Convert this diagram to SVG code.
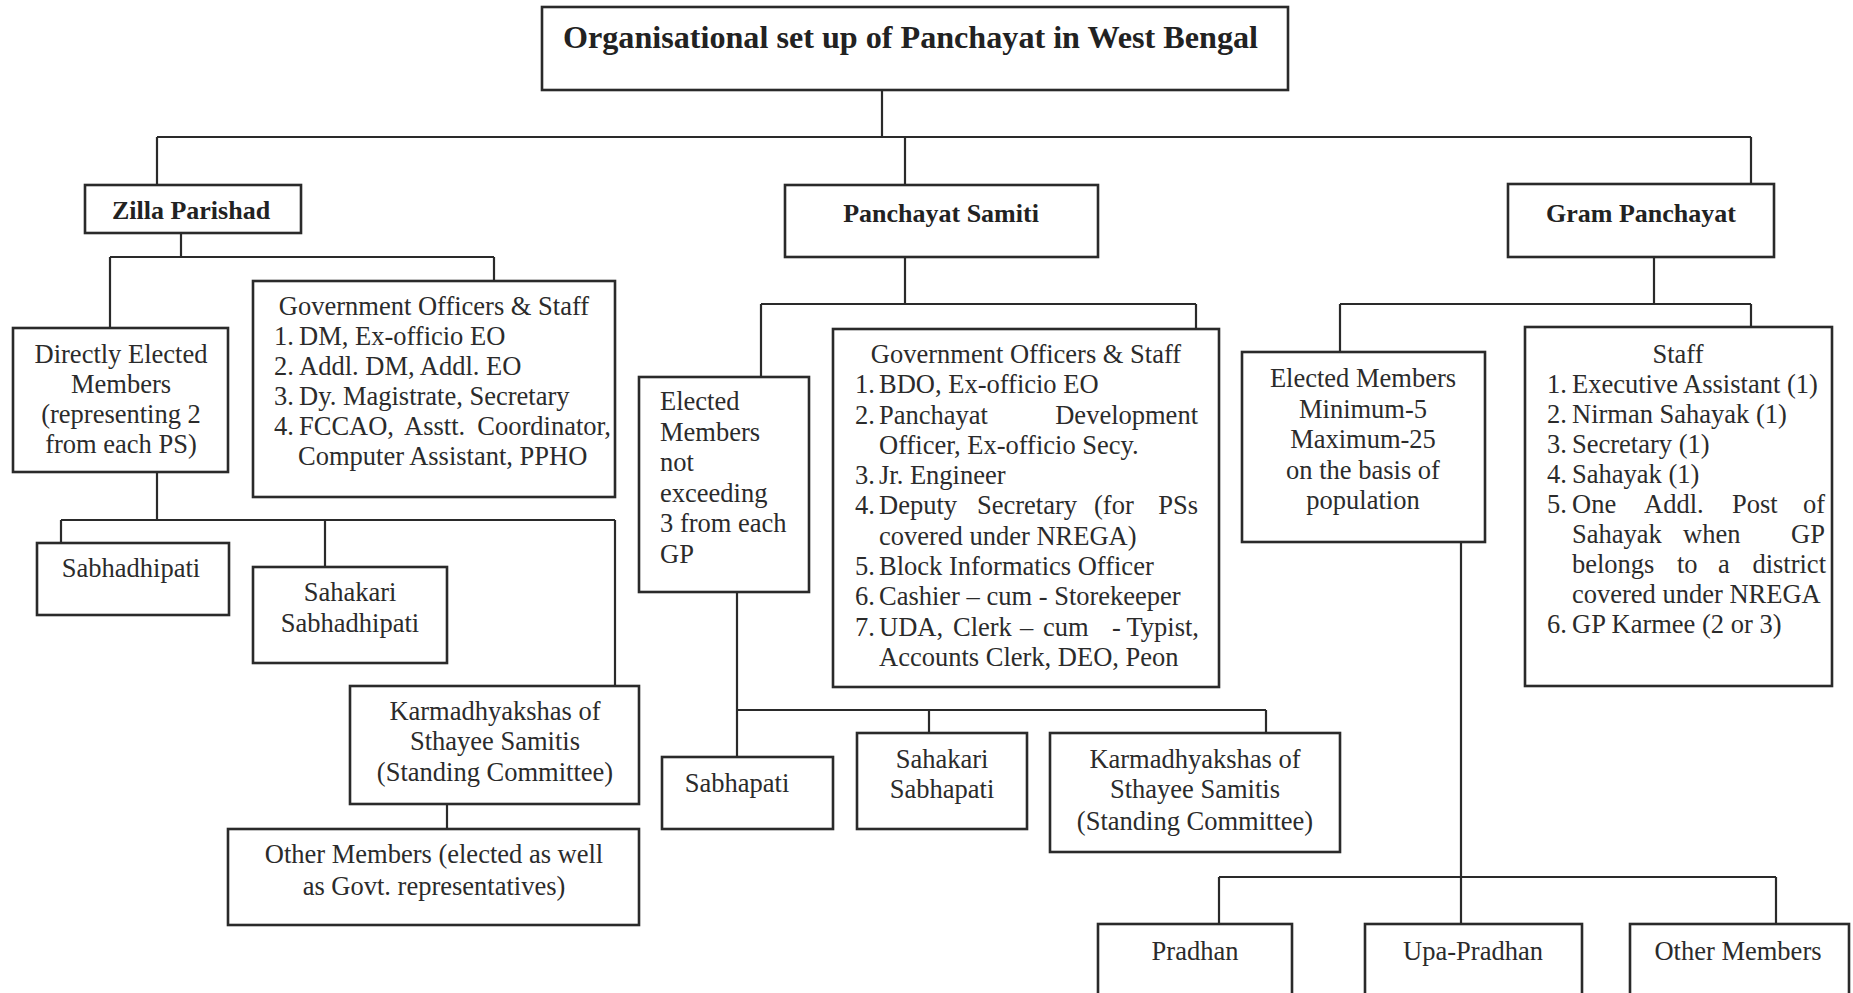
<svg xmlns="http://www.w3.org/2000/svg" width="1853" height="993" viewBox="0 0 1853 993">
<style>
.box{fill:#fff;stroke:#2a2a2a;stroke-width:2.6}
.ln{stroke:#2a2a2a;stroke-width:2.2;fill:none}
.t{font-family:'Liberation Serif','Times New Roman',serif;font-size:26.5px;fill:#2b2b2b}
.c{text-anchor:middle}
.e{text-anchor:end}
.b{font-weight:bold;font-size:26px;fill:#222}
.title{font-weight:bold;font-size:31px;fill:#222}
</style>
<rect width="1853" height="993" fill="#fff"/>
<g id="connectors">
<path class="ln" d="M882,90V137M157,137H1751M157,137V185M905,137V185M1751,137V185"/>
<path class="ln" d="M181,233V257M110,257H494M110,257V328M494,257V281"/>
<path class="ln" d="M157,472V520M61,520H615M61,520V543M325,520V567M615,520V686M447,804V829"/>
<path class="ln" d="M905,257V304M761,304H1196M761,304V377M1196,304V329"/>
<path class="ln" d="M737,592V757M737,710H1266M929,710V733M1266,710V733"/>
<path class="ln" d="M1654,257V304M1340,304H1751M1340,304V352M1751,304V327"/>
<path class="ln" d="M1461,542V924M1219,877H1776M1219,877V924M1776,877V924"/>
</g>
<g id="title">
<rect class="box" x="542" y="7" width="746" height="83"/>
<text class="t title" x="563" y="48" textLength="695" lengthAdjust="spacingAndGlyphs">Organisational set up of Panchayat in West Bengal</text>
</g>
<g id="zilla-parishad">
<rect class="box" x="85" y="185" width="216" height="48"/>
<text class="t b c" x="191" y="219">Zilla Parishad</text>
</g>
<g id="panchayat-samiti">
<rect class="box" x="785" y="185" width="313" height="72"/>
<text class="t b c" x="941" y="222">Panchayat Samiti</text>
</g>
<g id="gram-panchayat">
<rect class="box" x="1508" y="184" width="266" height="73"/>
<text class="t b c" x="1641" y="222">Gram Panchayat</text>
</g>
<g id="zp-elected">
<rect class="box" x="13" y="328" width="215" height="144"/>
<text class="t c"><tspan x="121" y="363">Directly Elected</tspan><tspan x="121" y="393">Members</tspan><tspan x="121" y="423">(representing 2</tspan><tspan x="121" y="453">from each PS)</tspan></text>
</g>
<g id="zp-officers">
<rect class="box" x="253" y="281" width="362" height="216"/>
<text class="t c" x="434" y="315">Government Officers &amp; Staff</text>
<text class="t"><tspan x="274" y="345">1.</tspan><tspan x="299" y="345">DM, Ex-officio EO</tspan><tspan x="274" y="375">2.</tspan><tspan x="299" y="375">Addl. DM, Addl. EO</tspan><tspan x="274" y="405">3.</tspan><tspan x="299" y="405">Dy. Magistrate, Secretary</tspan><tspan x="274" y="435">4.</tspan><tspan x="299" y="435">FCCAO,</tspan><tspan x="404" y="435">Asstt.</tspan><tspan x="298" y="465">Computer Assistant, PPHO</tspan></text>
<text class="t e" x="611" y="435">Coordinator,</text>
</g>
<g id="zp-sabhadhipati">
<rect class="box" x="37" y="543" width="192" height="72"/>
<text class="t c" x="131" y="577">Sabhadhipati</text>
</g>
<g id="zp-sahakari">
<rect class="box" x="253" y="567" width="194" height="96"/>
<text class="t c"><tspan x="350" y="601">Sahakari</tspan><tspan x="350" y="632">Sabhadhipati</tspan></text>
</g>
<g id="zp-karmadhyakshas">
<rect class="box" x="350" y="686" width="289" height="118"/>
<text class="t c"><tspan x="495" y="720">Karmadhyakshas of</tspan><tspan x="495" y="750">Sthayee Samitis</tspan><tspan x="495" y="781">(Standing Committee)</tspan></text>
</g>
<g id="zp-other-members">
<rect class="box" x="228" y="829" width="411" height="96"/>
<text class="t c"><tspan x="434" y="863">Other Members (elected as well</tspan><tspan x="434" y="895">as Govt. representatives)</tspan></text>
</g>
<g id="ps-elected">
<rect class="box" x="639" y="377" width="170" height="215"/>
<text class="t"><tspan x="660" y="410">Elected</tspan><tspan x="660" y="440.5">Members</tspan><tspan x="660" y="471">not</tspan><tspan x="660" y="501.5">exceeding</tspan><tspan x="660" y="532">3 from each</tspan><tspan x="660" y="562.5">GP</tspan></text>
</g>
<g id="ps-officers">
<rect class="box" x="833" y="329" width="386" height="358"/>
<text class="t c" x="1026" y="363">Government Officers &amp; Staff</text>
<text class="t"><tspan x="855" y="393">1.</tspan><tspan x="879" y="393">BDO, Ex-officio EO</tspan><tspan x="855" y="423.5">2.</tspan><tspan x="879" y="423.5">Panchayat</tspan><tspan x="879" y="454">Officer, Ex-officio Secy.</tspan><tspan x="855" y="484">3.</tspan><tspan x="879" y="484">Jr. Engineer</tspan><tspan x="855" y="514">4.</tspan><tspan x="879" y="514">Deputy</tspan><tspan x="977" y="514">Secretary</tspan><tspan x="1094" y="514">(for</tspan><tspan x="879" y="544.5">covered under NREGA)</tspan><tspan x="855" y="575">5.</tspan><tspan x="879" y="575">Block Informatics Officer</tspan><tspan x="855" y="605">6.</tspan><tspan x="879" y="605">Cashier – cum - Storekeeper</tspan><tspan x="855" y="635.5">7.</tspan><tspan x="879" y="635.5">UDA,</tspan><tspan x="953" y="635.5">Clerk</tspan><tspan x="1020" y="635.5">–</tspan><tspan x="1043" y="635.5">cum</tspan><tspan x="1112" y="635.5">-</tspan><tspan x="879" y="666">Accounts Clerk, DEO, Peon</tspan></text>
<text class="t e" x="1198" y="423.5">Development</text>
<text class="t e" x="1198" y="514">PSs</text>
<text class="t e" x="1199" y="635.5">Typist,</text>
</g>
<g id="ps-sabhapati">
<rect class="box" x="662" y="757" width="171" height="72"/>
<text class="t c" x="737" y="792">Sabhapati</text>
</g>
<g id="ps-sahakari">
<rect class="box" x="857" y="733" width="170" height="96"/>
<text class="t c"><tspan x="942" y="768">Sahakari</tspan><tspan x="942" y="798">Sabhapati</tspan></text>
</g>
<g id="ps-karmadhyakshas">
<rect class="box" x="1050" y="733" width="290" height="119"/>
<text class="t c"><tspan x="1195" y="768">Karmadhyakshas of</tspan><tspan x="1195" y="798">Sthayee Samitis</tspan><tspan x="1195" y="830">(Standing Committee)</tspan></text>
</g>
<g id="gp-elected">
<rect class="box" x="1242" y="352" width="243" height="190"/>
<text class="t c"><tspan x="1363" y="387">Elected Members</tspan><tspan x="1363" y="417.5">Minimum-5</tspan><tspan x="1363" y="448">Maximum-25</tspan><tspan x="1363" y="478.5">on the basis of</tspan><tspan x="1363" y="509">population</tspan></text>
</g>
<g id="gp-staff">
<rect class="box" x="1525" y="327" width="307" height="359"/>
<text class="t c" x="1678" y="363">Staff</text>
<text class="t"><tspan x="1547" y="393">1.</tspan><tspan x="1572" y="393">Executive Assistant (1)</tspan><tspan x="1547" y="423">2.</tspan><tspan x="1572" y="423">Nirman Sahayak (1)</tspan><tspan x="1547" y="453">3.</tspan><tspan x="1572" y="453">Secretary (1)</tspan><tspan x="1547" y="483">4.</tspan><tspan x="1572" y="483">Sahayak (1)</tspan><tspan x="1547" y="513">5.</tspan><tspan x="1572" y="513">One</tspan><tspan x="1644" y="513">Addl.</tspan><tspan x="1732" y="513">Post</tspan><tspan x="1572" y="543">Sahayak</tspan><tspan x="1683" y="543">when</tspan><tspan x="1572" y="573">belongs</tspan><tspan x="1677" y="573">to</tspan><tspan x="1718" y="573">a</tspan><tspan x="1572" y="603">covered under NREGA</tspan><tspan x="1547" y="633">6.</tspan><tspan x="1572" y="633">GP Karmee (2 or 3)</tspan></text>
<text class="t e" x="1825" y="513">of</text>
<text class="t e" x="1825" y="543">GP</text>
<text class="t e" x="1826" y="573">district</text>
</g>
<g id="gp-pradhan">
<rect class="box" x="1098" y="924" width="194" height="90"/>
<text class="t c" x="1195" y="960">Pradhan</text>
</g>
<g id="gp-upa-pradhan">
<rect class="box" x="1365" y="924" width="217" height="90"/>
<text class="t c" x="1473" y="960">Upa-Pradhan</text>
</g>
<g id="gp-other-members">
<rect class="box" x="1630" y="924" width="219" height="90"/>
<text class="t c" x="1738" y="960">Other Members</text>
</g>
</svg>
